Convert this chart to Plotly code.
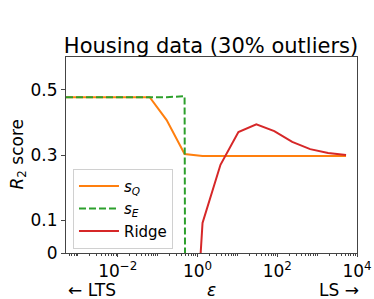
import plotly.graph_objects as go

# epsilon values (log10 grid)
log_eps = [-3.3, -2.85, -2.4, -1.95, -1.5, -1.2, -0.775, -0.325, 0.125, 0.575, 1.025, 1.475, 1.925, 2.375, 2.825, 3.275, 3.725]
eps = [10 ** v for v in log_eps]

s_q = [0.477, 0.477, 0.477, 0.477, 0.477, 0.477, 0.407, 0.303, 0.297, 0.297, 0.297, 0.297, 0.297, 0.297, 0.297, 0.297, 0.297]
s_e = [0.477, 0.477, 0.477, 0.477, 0.477, 0.477, 0.477, 0.48, -20, -20, -20, -20, -20, -20, -20, -20, -20]
ridge = [None, None, None, None, None, None, None, -0.8, 0.092, 0.27, 0.37, 0.394, 0.373, 0.34, 0.318, 0.306, 0.30]

ytick_vals = [0, 0.1, 0.3, 0.5]
ytick_text = ["0", "0.1", "0.3", "0.5"]
xtick_vals = [1e-2, 1, 1e2, 1e4]
xtick_text = ["10<sup>−2</sup>", "10<sup>0</sup>", "10<sup>2</sup>", "10<sup>4</sup>"]

FONT = "DejaVu Sans"
AX = "#444444"

fig = go.Figure()
fig.add_trace(go.Scatter(x=eps, y=s_q, mode="lines", name="<i>s<sub>Q</sub></i>",
                         legendgroup="a", line=dict(color="#ff7f0e", width=2)))
fig.add_trace(go.Scatter(x=eps, y=s_e, mode="lines", name="<i>s<sub>E</sub></i>",
                         legendgroup="b", line=dict(color="#2ca02c", width=2, dash="7px,3px")))
fig.add_trace(go.Scatter(x=eps, y=ridge, mode="lines", name="Ridge",
                         legendgroup="c", line=dict(color="#d62728", width=2)))

minor_vals = []
for d in range(-4, 4):
    for m in range(2, 10):
        minor_vals.append(m * 10 ** d)
minor_vals += [10 ** d for d in (-3, -1, 1, 3)]

fig.update_layout(
    width=374, height=299,
    margin=dict(l=66, r=17, t=57, b=46),
    paper_bgcolor="white", plot_bgcolor="white",
    font=dict(family=FONT, size=17, color="black"),
    title=dict(text="Housing data (30% outliers)", x=211 / 374, xanchor="center",
               y=1 - 46 / 299, yanchor="middle", font=dict(size=21, family=FONT)),
    showlegend=True,
    legend=dict(x=0.024, y=0.43, xanchor="left", yanchor="top",
                bordercolor="#d0d0d0", borderwidth=1, bgcolor="white",
                font=dict(size=15, family=FONT), tracegroupgap=0,
                itemwidth=40),
    xaxis=dict(type="log", range=[-3.3, 4.0], tickmode="array",
               tickvals=xtick_vals, ticktext=xtick_text,
               ticks="outside", ticklen=3, tickcolor=AX,
               showline=True, linecolor=AX, linewidth=1, mirror=True,
               showgrid=False, zeroline=False, automargin=False,
               tickfont=dict(size=17),
               minor=dict(tickmode="array", tickvals=minor_vals, ticks="outside",
                          ticklen=2, tickcolor=AX, showgrid=False)),
    yaxis=dict(range=[0, 0.6], tickmode="array", tickvals=ytick_vals, ticktext=ytick_text,
               ticks="outside", ticklen=4, tickcolor=AX,
               showline=True, linecolor=AX, linewidth=1, mirror=True,
               showgrid=False, zeroline=False, automargin=False,
               tickfont=dict(size=17)),
)

fig.add_annotation(text="<i>R</i><sub>2</sub> score", xref="paper", yref="paper",
                   x=(17.5 - 66) / 291, y=0.5, textangle=-90,
                   xanchor="center", yanchor="middle", showarrow=False, font=dict(size=17))
fig.add_annotation(text="← LTS", xref="paper", yref="paper", x=0.0, y=(253 - 290) / 196,
                   xanchor="left", yanchor="middle", showarrow=False, font=dict(size=17))
fig.add_annotation(text="<i>ε</i>", xref="paper", yref="paper", x=0.5, y=(253 - 290) / 196,
                   xanchor="center", yanchor="middle", showarrow=False, font=dict(size=17))
fig.add_annotation(text="LS →", xref="paper", yref="paper", x=(361 - 66) / 291, y=(253 - 290) / 196,
                   xanchor="right", yanchor="middle", showarrow=False, font=dict(size=17))

fig.write_html("out.html", post_script="document.body.style.margin='0';",
               config={"displayModeBar": False})
